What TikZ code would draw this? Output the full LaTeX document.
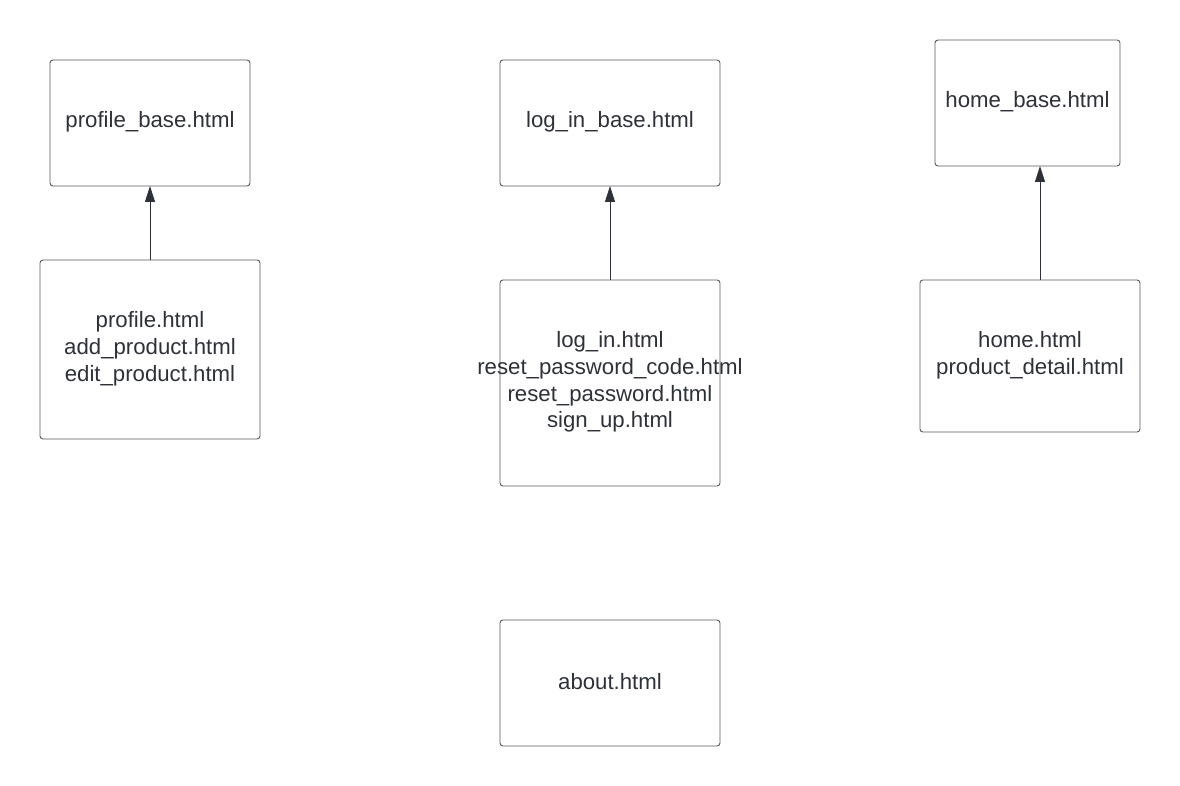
\documentclass[tikz,border=0pt]{standalone}
\usepackage{fontspec}
\setmainfont{Liberation Sans}
\usetikzlibrary{arrows.meta}
\definecolor{txt}{HTML}{2E3238}
\definecolor{bord}{HTML}{55585C}
\begin{document}
\begin{tikzpicture}[x=1pt,y=-1pt,
  box/.style={draw=bord,line width=0.9pt,rounded corners=3pt},
  lbl/.style={text=txt,font=\fontsize{22.2}{26.8}\selectfont,align=center,inner sep=0pt},
  conn/.style={draw=txt,line width=0.9pt,-{Triangle[length=16pt,width=10pt]}}]
\useasboundingbox[fill=white] (0,0) rectangle (1180,786);
% boxes
\draw[box] (50,60) rectangle (250,186);
\node[lbl] (pb) at (150,122) {profile\_base.html};
\draw[box] (40,260) rectangle (260,439);
\node[lbl] (pg) at (150,349) {profile.html\\add\_product.html\\edit\_product.html};
\draw[box] (500,60) rectangle (720,186);
\node[lbl] (lb) at (610,122) {log\_in\_base.html};
\draw[box] (500,280) rectangle (720,486);
\node[lbl] (lg) at (610,382) {log\_in.html\\reset\_password\_code.html\\reset\_password.html\\sign\_up.html};
\draw[box] (935,40) rectangle (1120,166);
\node[lbl] (hb) at (1027.5,102) {home\_base.html};
\draw[box] (920,280) rectangle (1140,432);
\node[lbl] (hg) at (1030,355) {home.html\\product\_detail.html};
\draw[box] (500,620) rectangle (720,746);
\node[lbl] (ab) at (610,682) {about.html};
% anchor coordinates
\coordinate (pgT) at (150,260);
\coordinate (pbB) at (150,186);
\coordinate (lgT) at (610,280);
\coordinate (lbB) at (610,186);
\coordinate (hgT) at (1040,280);
\coordinate (hbB) at (1040,166);
\draw[conn] (pgT) -- (pbB);
\draw[conn] (lgT) -- (lbB);
\draw[conn] (hgT) -- (hbB);
\end{tikzpicture}
\end{document}
